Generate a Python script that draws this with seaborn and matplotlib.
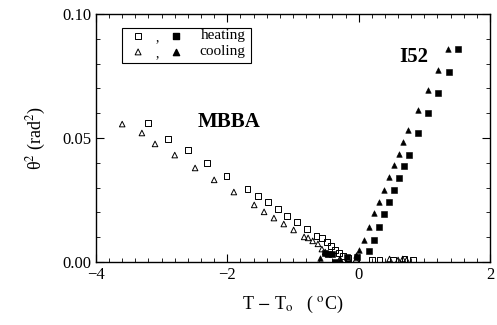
import numpy as np
import pandas as pd
import seaborn as sns
import matplotlib.pyplot as plt
from matplotlib.ticker import MultipleLocator, FormatStrFormatter

# MBBA, heating (open squares)
mbba_heat_x = [-3.21, -2.90, -2.60, -2.31, -2.01, -1.69, -1.53, -1.38, -1.23, -1.09,
               -0.94, -0.79, -0.64, -0.56, -0.48, -0.42, -0.36, -0.30, -0.24, -0.16,
               0.20, 0.32, 0.52, 0.70, 0.83]
mbba_heat_y = [0.0560, 0.0496, 0.0452, 0.0399, 0.0347, 0.0294, 0.0266, 0.0242, 0.0214, 0.0185,
               0.0161, 0.0133, 0.0105, 0.0097, 0.0081, 0.0065, 0.0048, 0.0036, 0.0024, 0.0016,
               0.0010, 0.0010, 0.0010, 0.0012, 0.0010]
# MBBA, cooling (open triangles)
mbba_cool_x = [-3.60, -3.30, -3.10, -2.80, -2.49, -2.20, -1.90, -1.59, -1.44, -1.29,
               -1.14, -0.99, -0.83, -0.77, -0.70, -0.62, -0.56, -0.51, -0.47,
               -0.29, -0.16, -0.04, 0.47, 0.60, 0.67, 0.73]
mbba_cool_y = [0.0556, 0.0520, 0.0476, 0.0431, 0.0379, 0.0331, 0.0282, 0.0230, 0.0202, 0.0177,
               0.0153, 0.0129, 0.0101, 0.0097, 0.0085, 0.0073, 0.0052, 0.0040, 0.0032,
               0.0010, 0.0012, 0.0010, 0.0012, 0.0008, 0.0012, 0.0008]
# I52, heating (filled squares)
i52_heat_x = [1.51, 1.37, 1.21, 1.05, 0.90, 0.76, 0.69, 0.61, 0.54, 0.46, 0.38, 0.31,
              0.23, 0.16, -0.51, -0.47, -0.41, -0.36, -0.18, -0.03]
i52_heat_y = [0.0859, 0.0766, 0.0681, 0.0601, 0.0520, 0.0431, 0.0387, 0.0339, 0.0290, 0.0242,
              0.0194, 0.0141, 0.0089, 0.0044, 0.0036, 0.0032, 0.0032, 0.0000, 0.0020, 0.0020]
# I52, cooling (filled triangles)
i52_cool_x = [1.36, 1.21, 1.05, 0.90, 0.75, 0.67, 0.61, 0.54, 0.46, 0.38, 0.31, 0.23,
              0.16, 0.08, 0.00, -0.04, -0.29, -0.59]
i52_cool_y = [0.0859, 0.0774, 0.0694, 0.0613, 0.0532, 0.0484, 0.0435, 0.0391, 0.0343, 0.0290,
              0.0242, 0.0198, 0.0141, 0.0089, 0.0048, 0.0030, 0.0010, 0.0015]

sns.set_theme(style="ticks")
plt.rcParams['font.family'] = ['Liberation Serif', 'DejaVu Serif']
plt.rcParams['mathtext.fontset'] = 'stix'
plt.rcParams['text.color'] = 'black'
plt.rcParams['axes.labelcolor'] = 'black'

fig, ax = plt.subplots(figsize=(4.97, 3.25), dpi=100)
fig.subplots_adjust(left=0.193, right=0.986, top=0.957, bottom=0.194)

sns.scatterplot(x=mbba_heat_x, y=mbba_heat_y, marker="s", s=16, facecolor="none",
                edgecolor="black", linewidth=0.7, ax=ax)
sns.scatterplot(x=mbba_cool_x, y=mbba_cool_y, marker="^", s=16, facecolor="none",
                edgecolor="black", linewidth=0.7, ax=ax)
sns.scatterplot(x=i52_heat_x, y=i52_heat_y, marker="s", s=16, color="black",
                edgecolor="black", linewidth=0.4, ax=ax)
sns.scatterplot(x=i52_cool_x, y=i52_cool_y, marker="^", s=16, color="black",
                edgecolor="black", linewidth=0.4, ax=ax)

ax.set_xlim(-4, 2)
ax.set_ylim(0, 0.10)
ax.xaxis.set_major_locator(MultipleLocator(2))
ax.xaxis.set_minor_locator(MultipleLocator(0.2))
ax.yaxis.set_major_locator(MultipleLocator(0.05))
ax.yaxis.set_minor_locator(MultipleLocator(0.01))
ax.yaxis.set_major_formatter(FormatStrFormatter('%.2f'))
ax.tick_params(which='both', direction='in', top=True, right=True, labelsize=12,
               color='black', labelcolor='black')
ax.tick_params(which='major', length=6, width=0.8)
ax.tick_params(which='minor', length=3, width=0.6)
for sp in ax.spines.values():
    sp.set_linewidth(1.0)
    sp.set_color('black')

ax.set_xlabel(r"T $-$ T$_{\rm o}$   ( $^{\rm o}$C)", fontsize=13, labelpad=8, color='black')
ax.set_ylabel(r"θ$^2$ (rad$^2$)", fontsize=13, labelpad=10, color='black')

ax.text(-2.45, 0.0565, "MBBA", fontsize=15, fontweight='bold', va='center', ha='left',
        color='black')
ax.text(0.62, 0.0825, "I52", fontsize=15, fontweight='bold', va='center', ha='left',
        color='black')

# legend box, drawn by hand in axes coordinates
tr = ax.transAxes
ax.add_patch(plt.Rectangle((0.066, 0.802), 0.327, 0.142, transform=tr, fill=False,
                           edgecolor='black', linewidth=0.8))
ax.scatter([0.107], [0.911], marker="s", s=18, facecolor="none", edgecolor="black",
           linewidth=0.7, transform=tr)
ax.scatter([0.203], [0.911], marker="s", s=20, color="black", transform=tr)
ax.scatter([0.107], [0.847], marker="^", s=18, facecolor="none", edgecolor="black",
           linewidth=0.7, transform=tr)
ax.scatter([0.203], [0.847], marker="^", s=20, color="black", transform=tr)
ax.text(0.150, 0.905, ",", transform=tr, fontsize=10, va='center', color='black')
ax.text(0.150, 0.841, ",", transform=tr, fontsize=10, va='center', color='black')
ax.text(0.380, 0.913, "heating", transform=tr, fontsize=11, va='center', ha='right',
        color='black')
ax.text(0.380, 0.849, "cooling", transform=tr, fontsize=11, va='center', ha='right',
        color='black')

fig.savefig("out.png", dpi=100)
